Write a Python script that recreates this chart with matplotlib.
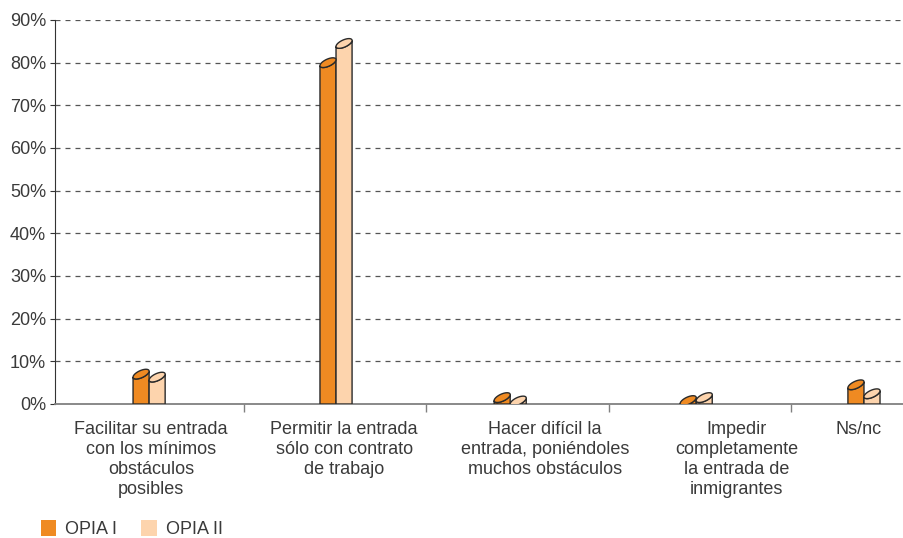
import numpy as np
import matplotlib
matplotlib.use("Agg")
import matplotlib.pyplot as plt
from matplotlib.patches import Polygon, Patch

categories = [
    "Facilitar su entrada\ncon los mínimos\nobstáculos\nposibles",
    "Permitir la entrada\nsólo con contrato\nde trabajo",
    "Hacer difícil la\nentrada, poniéndoles\nmuchos obstáculos",
    "Impedir\ncompletamente\nla entrada de\ninmigrantes",
    "Ns/nc",
]
series_names = ["OPIA I", "OPIA II"]
opia1 = [7.0, 80.0, 1.5, 0.8, 4.5]
opia2 = [6.3, 84.5, 0.7, 1.5, 2.4]
yticks = [0, 10, 20, 30, 40, 50, 60, 70, 80, 90]
ytick_labels = [f"{v}%" for v in yticks]

# layout nudges (category units) copied from the original's uneven placement
bar_nudge = np.array([-0.02, 0.005, -0.04, -0.02, -0.10])
label_nudge = np.array([-0.01, 0.05, 0.15, 0.20, -0.13])

COLORS = ["#EF8A22", "#FDD4AD"]
EDGE = "#2a2a2a"
TEXT = "#3a3a3a"

plt.rcParams["font.family"] = ["Liberation Sans", "DejaVu Sans"]

fig = plt.figure(figsize=(9.04, 5.38), dpi=100)
ax = fig.add_axes([55 / 904, 1 - 404 / 538, 850 / 904, 384 / 538])
ax.set_xlim(-0.536, 4.125)
ax.set_ylim(0, 90)


def cylinder(ax, xc, v, w, color):
    """Bar with a tilted elliptical cap, drawn in data units."""
    s, h = 0.7, 0.9          # cap tilt and half height (in % units)
    t = np.linspace(0, 2 * np.pi, 80)
    cx = xc + w / 2 * np.cos(t)
    cy = v + s * np.cos(t) + h * np.sin(t)
    tl = np.linspace(0, -np.pi, 40)
    lx = xc + w / 2 * np.cos(tl)
    ly = v + s * np.cos(tl) + h * np.sin(tl)
    body = [(xc + w / 2, 0)] + list(zip(lx, ly)) + [(xc - w / 2, 0)]
    ax.add_patch(Polygon(body, closed=True, facecolor=color, edgecolor=EDGE,
                         linewidth=1.0, zorder=3))
    ax.add_patch(Polygon(list(zip(cx, cy)), closed=True, facecolor=color,
                         edgecolor=EDGE, linewidth=1.0, zorder=4))


x = np.arange(len(categories))
w = 0.088
for vals, off, col in [(opia1, -w / 2, COLORS[0]), (opia2, w / 2, COLORS[1])]:
    for xi, nd, v in zip(x, bar_nudge, vals):
        cylinder(ax, xi + nd + off, v, w, col)

# grid
for yv in yticks[1:]:
    ax.axhline(yv, color="#555555", linewidth=0.9, linestyle=(0, (4, 4)), zorder=1)

ax.spines[["top", "right"]].set_visible(False)
ax.spines["left"].set_color("#333333")
ax.spines["bottom"].set_color("#808080")
ax.spines["bottom"].set_linewidth(1.3)

ax.set_yticks(yticks)
ax.set_yticklabels(ytick_labels, fontsize=13, color=TEXT)
ax.tick_params(axis="y", length=3.5, color="#333333", pad=3)

ax.set_xticks(x[:-1] + 0.5)
ax.set_xticklabels([])
ax.tick_params(axis="x", which="major", length=6, color="#808080", width=1)
ax.set_xticks(x + label_nudge, minor=True)
ax.set_xticklabels(categories, minor=True, fontsize=13, color=TEXT,
                   linespacing=1.25, va="top")
ax.tick_params(axis="x", which="minor", length=0, pad=12)

handles = [Patch(facecolor=c, edgecolor="none") for c in COLORS]
fig.legend(handles, series_names, loc="lower left", bbox_to_anchor=(0.027, -0.03),
           ncol=2, frameon=False, fontsize=13, labelcolor=TEXT,
           handlelength=0.85, handleheight=1.0, handletextpad=0.5, columnspacing=1.35)

fig.savefig("out.png", dpi=100, facecolor="white")
